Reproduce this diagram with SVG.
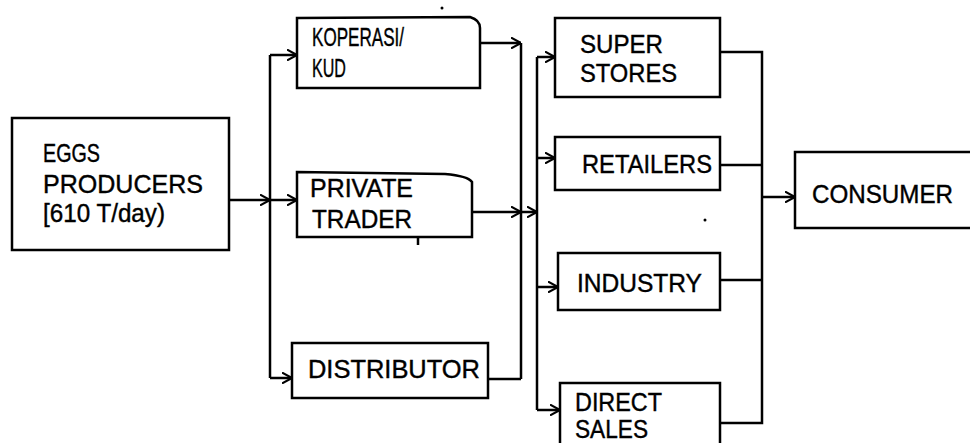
<svg xmlns="http://www.w3.org/2000/svg" width="970" height="443" viewBox="0 0 970 443">
<style>
.box{fill:none;stroke:#000;stroke-width:2.5;stroke-linejoin:miter}
.ln{fill:none;stroke:#000;stroke-width:2.5}
text{font-family:"Liberation Sans",Arial,sans-serif;font-size:25px;fill:#000;stroke:#000;stroke-width:0.4}
</style>
<defs>
<marker id="ah" viewBox="0 0 10 12" refX="10" refY="6" markerUnits="userSpaceOnUse" markerWidth="10" markerHeight="12" orient="auto">
<path d="M0,0.5 L10,6 L0,11.5" fill="none" stroke="#000" stroke-width="2"/>
</marker>
</defs>
<rect width="970" height="443" fill="#fff"/>
<g id="eggs-producers">
<rect class="box" x="12" y="118" width="217" height="132"/>
<text x="43" y="162" textLength="57" lengthAdjust="spacingAndGlyphs">EGGS</text>
<text x="43" y="193" textLength="160" lengthAdjust="spacingAndGlyphs">PRODUCERS</text>
<text x="43" y="222" textLength="122" lengthAdjust="spacingAndGlyphs">[610 T/day)</text>
</g>
<g id="koperasi">
<path class="box" d="M297,18 L470,17 Q480,20 480,28 L480,88 L297,88 Z"/>
<text x="312" y="46" textLength="92" lengthAdjust="spacingAndGlyphs">KOPERASI/</text>
<text x="312" y="77" textLength="34" lengthAdjust="spacingAndGlyphs">KUD</text>
</g>
<g id="private-trader">
<path class="box" d="M297,172 L445,174 Q468,176 472,182 L472,237 L297,237 Z"/>
<path class="ln" d="M418,237 L418,245"/>
<text x="310" y="197" textLength="103" lengthAdjust="spacingAndGlyphs">PRIVATE</text>
<text x="312" y="228" textLength="100" lengthAdjust="spacingAndGlyphs">TRADER</text>
</g>
<g id="distributor">
<rect class="box" x="292" y="343" width="196" height="55"/>
<text x="308" y="378" textLength="172" lengthAdjust="spacingAndGlyphs">DISTRIBUTOR</text>
</g>
<g id="super-stores">
<rect class="box" x="555" y="18" width="165" height="79"/>
<text x="580" y="53" textLength="83" lengthAdjust="spacingAndGlyphs">SUPER</text>
<text x="580" y="82" textLength="97" lengthAdjust="spacingAndGlyphs">STORES</text>
</g>
<g id="retailers">
<rect class="box" x="555" y="137" width="165" height="53"/>
<text x="582" y="173" textLength="130" lengthAdjust="spacingAndGlyphs">RETAILERS</text>
</g>
<g id="industry">
<rect class="box" x="558" y="253" width="162" height="57"/>
<text x="577" y="292" textLength="125" lengthAdjust="spacingAndGlyphs">INDUSTRY</text>
</g>
<g id="direct-sales">
<path class="box" d="M560,443 L560,383 L720,383 L720,443"/>
<text x="575" y="411" textLength="87" lengthAdjust="spacingAndGlyphs">DIRECT</text>
<text x="575" y="438" textLength="73" lengthAdjust="spacingAndGlyphs">SALES</text>
</g>
<g id="consumer">
<path class="box" d="M970,152 L795,152 L795,228 L970,228"/>
<text x="812" y="203" textLength="141" lengthAdjust="spacingAndGlyphs">CONSUMER</text>
</g>
<g id="connectors">
<path class="ln" d="M229,200 L270,200" marker-end="url(#ah)"/>
<path class="ln" d="M270,55 L270,378"/>
<path class="ln" d="M270,55 L297,55" marker-end="url(#ah)"/>
<path class="ln" d="M270,200 L297,200" marker-end="url(#ah)"/>
<path class="ln" d="M270,378 L292,378" marker-end="url(#ah)"/>
<path class="ln" d="M480,43 L521,43" marker-end="url(#ah)"/>
<path class="ln" d="M521,43 L521,379"/>
<path class="ln" d="M472,212 L521,212" marker-end="url(#ah)"/>
<path class="ln" d="M521,212 L537,212" marker-end="url(#ah)"/>
<path class="ln" d="M488,379 L521,379"/>
<path class="ln" d="M537,57 L537,410"/>
<path class="ln" d="M537,57 L555,57" marker-end="url(#ah)"/>
<path class="ln" d="M537,158 L555,158" marker-end="url(#ah)"/>
<path class="ln" d="M537,287 L558,287" marker-end="url(#ah)"/>
<path class="ln" d="M537,410 L560,410" marker-end="url(#ah)"/>
<path class="ln" d="M720,52 L762,52 L762,423 L720,423"/>
<path class="ln" d="M720,165 L762,165"/>
<path class="ln" d="M720,280 L762,280"/>
<path class="ln" d="M762,197 L795,197" marker-end="url(#ah)"/>
</g>
<circle cx="442" cy="8" r="1.5" fill="#000"/>
<circle cx="705" cy="220" r="1.5" fill="#000"/>
</svg>
